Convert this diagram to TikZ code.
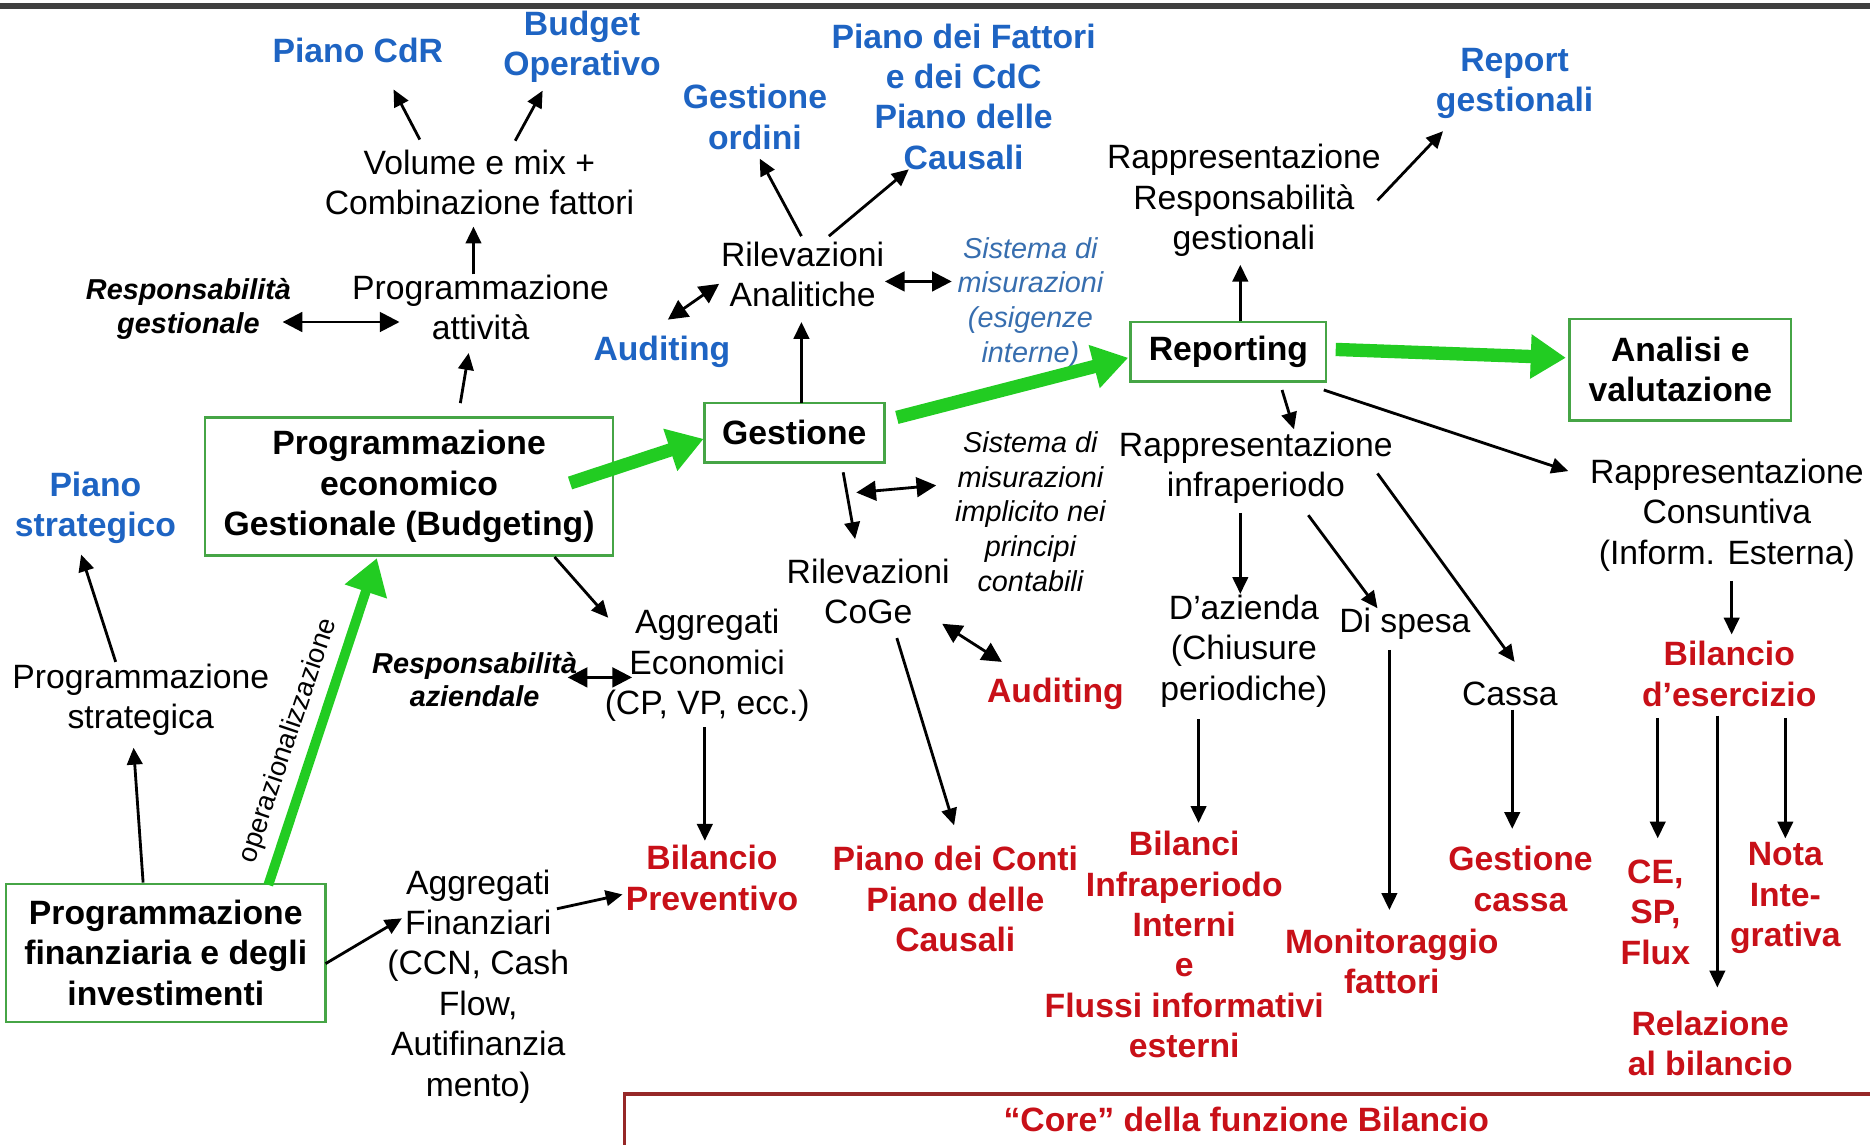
\documentclass[tikz,border=0pt]{standalone}
\usepackage{fontspec}
\setmainfont{Liberation Sans}
\usetikzlibrary{arrows.meta}
\definecolor{myblue}{RGB}{30,100,195}
\definecolor{sysblue}{RGB}{55,110,175}
\definecolor{myred}{RGB}{200,16,24}
\definecolor{boxgreen}{RGB}{70,165,70}
\definecolor{arrgreen}{RGB}{34,204,34}
\definecolor{coreborder}{RGB}{150,40,40}
\begin{document}
\begin{tikzpicture}[x=0.011926cm, y=-0.011926cm,
  every node/.style={inner sep=1pt, align=center},
  txtr/.style={font=\fontsize{9.6}{11.5}\selectfont},
  txtb/.style={font=\fontsize{9.6}{11.5}\selectfont\bfseries, text=myblue},
  txtred/.style={font=\fontsize{9.6}{11.5}\selectfont\bfseries, text=myred},
  txtk/.style={font=\fontsize{9.6}{11.5}\selectfont\bfseries},
  txti/.style={font=\fontsize{8.2}{9.9}\selectfont\itshape},
  txtbi/.style={font=\fontsize{8.2}{9.5}\selectfont\bfseries\itshape},
  gbox/.style={draw=boxgreen, line width=0.7pt, txtk},
  arr/.style={line width=0.8pt, -{Triangle[length=4.8pt,width=4.4pt]}},
  darr/.style={line width=0.8pt, {Triangle[length=5.6pt,width=5.6pt]}-{Triangle[length=5.6pt,width=5.6pt]}},
  garr/.style={draw=arrgreen, line width=3.8pt, -{Triangle[length=10pt,width=12pt]}}]
\useasboundingbox (0,0) rectangle (1568,960);
\fill[white] (0,0) rectangle (1568,960);
% top rule
\draw[line width=1.6pt, black!75] (0,5) -- (1568,5);

% nodes
\node[txtb] (pcdr) at (300,42) {Piano CdR};
\node[txtb] (budop) at (488,39) {Budget\\Operativo};
\node[txtb] (pfat) at (808,81) {Piano dei Fattori\\e dei CdC\\Piano delle\\Causali};
\node[txtb] (gord) at (633,98) {Gestione\\ordini};
\node[txtb] (repg) at (1270,70) {Report\\gestionali};
\node[txtr] (vol) at (402,153) {Volume e mix +\\Combinazione fattori};
\node[txtbi] (respg) at (158,259) {Responsabilità\\gestionale};
\node[txtr] (progatt) at (403,258) {Programmazione\\attività};
\node[txtr] (rilan) at (673,230) {Rilevazioni\\Analitiche};
\node[txti, text=sysblue] (sism1) at (864,254) {Sistema di\\misurazioni\\(esigenze\\interne)};
\node[txtb] (aud1) at (555,295) {Auditing};
\node[txtr] (rapresp) at (1043,168) {Rappresentazione\\Responsabilità\\gestionali};
\node[gbox, minimum width=1.956cm, minimum height=0.596cm] (rep) at (1030,295) {Reporting};
\node[gbox, minimum width=2.218cm, minimum height=1.014cm] (anal) at (1409,310) {Analisi e\\valutazione};
\node[gbox, minimum width=1.801cm, minimum height=0.596cm] (gest) at (666,363) {Gestione};
\node[gbox, minimum width=4.079cm, minimum height=1.383cm] (budg) at (343,408) {Programmazione\\economico\\Gestionale (Budgeting)};
\node[txtb] (pstrat) at (80,426) {Piano\\strategico};
\node[txtr] (progstrat) at (118,587) {Programmazione\\strategica};
\node[gbox, minimum width=3.196cm, minimum height=1.383cm] (progfin) at (139,799) {Programmazione\\finanziaria e degli\\investimenti};
\node[txti] (sism2) at (864,429) {Sistema di\\misurazioni\\implicito nei\\principi\\contabili};
\node[txtr] (coge) at (728,496) {Rilevazioni\\CoGe};
\node[txtr] (rapinfra) at (1053,392) {Rappresentazione\\infraperiodo};
\node[txtr] (rapcons) at (1448,432) {Rappresentazione\\Consuntiva\\(Inform. Esterna)};
\node[txtr] (aggec) at (593,558) {Aggregati\\Economici\\(CP, VP, ecc.)};
\node[txtbi] (respaz) at (398,570) {Responsabilità\\aziendale};
\node[txtred] (aud2) at (885,582) {Auditing};
\node[txtr] (daz) at (1043,546) {D'azienda\\(Chiusure\\periodiche)};
\node[txtr] (dispesa) at (1178,523) {Di spesa};
\node[txtr] (cassa) at (1266,582) {Cassa};
\node[txtred] (bilese) at (1450,565) {Bilancio\\d’esercizio};
\node[txtred] (bilprev) at (597,736) {Bilancio\\Preventivo};
\node[txtred] (pconti) at (801,754) {Piano dei Conti\\Piano delle\\Causali};
\node[txtred] (bilanci) at (993,792) {Bilanci\\Infraperiodo\\Interni\\e\\Flussi informativi\\esterni};
\node[txtred] (monit) at (1167,806) {Monitoraggio\\fattori};
\node[txtred] (gcassa) at (1275,737) {Gestione\\cassa};
\node[txtred] (cesp) at (1388,765) {CE,\\SP,\\Flux};
\node[txtred] (nota) at (1497,753) {Nota\\Inte-\\grativa};
\node[txtred] (relaz) at (1434,875) {Relazione\\al bilancio};
\node[txtr] (aggfin) at (401,827) {Aggregati\\Finanziari\\(CCN, Cash\\Flow,\\Autifinanzia\\mento)};
\node[draw=coreborder, line width=0.9pt, anchor=north west, minimum width=12.7cm, minimum height=0.8cm] (corebox) at (522,916) {};
\node[txtred] (core) at (1045,939) {“Core” della funzione Bilancio};
\node[font=\fontsize{7.8}{9}\selectfont, rotate=71.3, inner sep=0pt] (opz) at (242,621) {operazionalizzazione};

% green arrows
\draw[garr] ([shift={(135,-3)}]budg.center) -- ([shift={(-76,5)}]gest.center);
\draw[garr] ([shift={(86,-13)}]gest.center) -- ([shift={(-84,5)}]rep.center);
\draw[garr] ([shift={(90,-2)}]rep.center) -- ([shift={(-96,-10)}]anal.center);
\draw[garr, line width=2.8pt] ([shift={(86,-57)}]progfin.center) -- ([shift={(-27,60)}]budg.center);

% black arrows
\draw[arr] ([shift={(-50,-36)}]vol.center) -- ([shift={(30,33)}]pcdr.center);
\draw[arr] ([shift={(30,-35)}]vol.center) -- ([shift={(-33,37)}]budop.center);
\draw[arr] ([shift={(-6,-28)}]progatt.center) -- ([shift={(-5,37)}]vol.center);
\draw[darr] ([shift={(79,11)}]respg.center) -- ([shift={(-68,12)}]progatt.center);
\draw[arr] ([shift={(43,-70)}]budg.center) -- ([shift={(-10,38)}]progatt.center);
\draw[arr] ([shift={(-1,-32)}]rilan.center) -- ([shift={(4,35)}]gord.center);
\draw[arr] ([shift={(22,-32)}]rilan.center) -- ([shift={(-46,61)}]pfat.center);
\draw[darr] ([shift={(5,-27)}]aud1.center) -- ([shift={(-70,8)}]rilan.center);
\draw[darr] ([shift={(69,6)}]rilan.center) -- ([shift={(-66,-18)}]sism1.center);
\draw[arr] ([shift={(6,-25)}]gest.center) -- ([shift={(-1,40)}]rilan.center);
\draw[arr] ([shift={(10,-26)}]rep.center) -- ([shift={(-3,54)}]rapresp.center);
\draw[arr] ([shift={(112,0)}]rapresp.center) -- ([shift={(-60,40)}]repg.center);
\draw[arr] ([shift={(45,32)}]rep.center) -- ([shift={(32,-32)}]rapinfra.center);
\draw[arr] ([shift={(80,32)}]rep.center) -- ([shift={(-133,-37)}]rapcons.center);
\draw[arr] ([shift={(41,33)}]gest.center) -- ([shift={(-11,-44)}]coge.center);
\draw[darr] ([shift={(-10,-83)}]coge.center) -- ([shift={(-79,-22)}]sism2.center);
\draw[arr] ([shift={(122,59)}]budg.center) -- ([shift={(-83,-40)}]aggec.center);
\draw[darr] ([shift={(78,-2)}]respaz.center) -- ([shift={(-63,10)}]aggec.center);
\draw[arr] ([shift={(-2,52)}]aggec.center) -- ([shift={(-6,-31)}]bilprev.center);
\draw[arr] ([shift={(24,39)}]coge.center) -- ([shift={(-1,-62)}]pconti.center);
\draw[darr] ([shift={(62,27)}]coge.center) -- ([shift={(-45,-27)}]aud2.center);
\draw[arr] ([shift={(-13,38)}]rapinfra.center) -- ([shift={(-3,-48)}]daz.center);
\draw[arr] ([shift={(44,40)}]rapinfra.center) -- ([shift={(-23,-13)}]dispesa.center);
\draw[arr] ([shift={(102,5)}]rapinfra.center) -- ([shift={(4,-27)}]cassa.center);
\draw[arr] ([shift={(-38,57)}]daz.center) -- ([shift={(12,-102)}]bilanci.center);
\draw[arr] ([shift={(-13,22)}]dispesa.center) -- ([shift={(-2,-43)}]monit.center);
\draw[arr] ([shift={(2,13)}]cassa.center) -- ([shift={(-7,-42)}]gcassa.center);
\draw[arr] ([shift={(4,55)}]rapcons.center) -- ([shift={(2,-33)}]bilese.center);
\draw[arr] ([shift={(-60,37)}]bilese.center) -- ([shift={(2,-62)}]cesp.center);
\draw[arr] ([shift={(-10,35)}]bilese.center) -- ([shift={(6,-47)}]relaz.center);
\draw[arr] ([shift={(47,37)}]bilese.center) -- ([shift={(0,-50)}]nota.center);
\draw[arr] ([shift={(-21,-32)}]progstrat.center) -- ([shift={(-12,39)}]pstrat.center);
\draw[arr] ([shift={(-19,-59)}]progfin.center) -- ([shift={(-6,40)}]progstrat.center);
\draw[arr] ([shift={(134,9)}]progfin.center) -- ([shift={(-64,-57)}]aggfin.center);
\draw[arr] ([shift={(66,-65)}]aggfin.center) -- ([shift={(-75,14)}]bilprev.center);
\end{tikzpicture}
\end{document}
